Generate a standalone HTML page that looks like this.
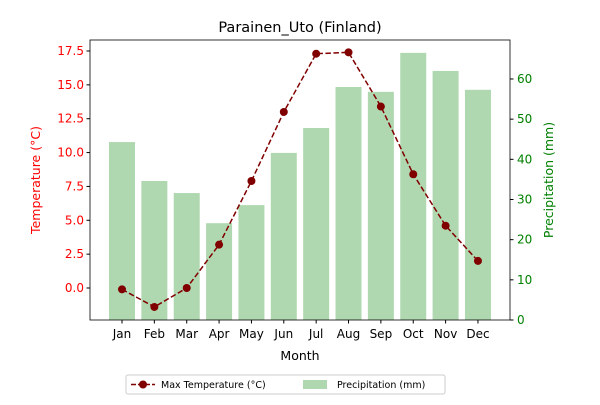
<!DOCTYPE html>
<html><head><meta charset="utf-8"><style>
body{margin:0;background:#fff;font-family:"Liberation Sans","DejaVu Sans",sans-serif;}
svg text{font-family:"DejaVu Sans","Liberation Sans",sans-serif;}
</style></head><body>
<svg id="chart" width="600" height="400" xmlns="http://www.w3.org/2000/svg">
<text x="300" y="32" font-size="14.5" text-anchor="middle">Parainen_Uto (Finland)</text>
<g id="bars"></g><g id="line"></g><g id="axes"></g>
<g>
<rect x="126" y="375" width="319" height="19" fill="#fff" stroke="#ccc" rx="2"/>
<line x1="131" y1="384.5" x2="155" y2="384.5" stroke="#800000" stroke-width="1.5" stroke-dasharray="5,2"/>
<circle cx="143" cy="384.5" r="4" fill="#800000"/>
<text x="161" y="388" font-size="9.5">Max Temperature (°C)</text>
<rect x="303" y="380" width="24" height="9" fill="#b0d8b0"/>
<text x="337" y="388" font-size="9.5">Precipitation (mm)</text>
</g>
</svg>
<script>
const months=["Jan","Feb","Mar","Apr","May","Jun","Jul","Aug","Sep","Oct","Nov","Dec"];
const temps=[-0.1,-1.4,0.0,3.2,7.9,13.0,17.3,17.4,13.4,8.4,4.6,2.0];
const precip=[44.3,34.6,31.6,24.1,28.6,41.6,47.8,58.0,56.8,66.5,62.0,57.3];
const tTicks=[0,2.5,5,7.5,10,12.5,15,17.5];
const pTicks=[0,10,20,30,40,50,60];
const L=90,R=510,T=40,B=320;
const x=i=>122+i*32.36;
const yT=v=>288-v*13.543;
const yP=v=>320-v*4.017;
const NS="http://www.w3.org/2000/svg";
function mk(tag,attrs,parent,txt){const e=document.createElementNS(NS,tag);for(const k in attrs)e.setAttribute(k,attrs[k]);if(txt!==undefined)e.textContent=txt;parent.appendChild(e);return e;}
const bars=document.getElementById('bars'),line=document.getElementById('line'),axes=document.getElementById('axes');
precip.forEach((v,i)=>{const r=mk('rect',{x:x(i)-13,y:yP(v),width:26,height:B-yP(v),fill:'#b0d8b0'},bars);

});
const pl=mk('polyline',{points:temps.map((v,i)=>x(i)+','+yT(v)).join(' '),fill:'none',stroke:'#800000','stroke-width':1.5,'stroke-dasharray':'5.5,2.5'},line);


temps.forEach((v,i)=>{const c=mk('circle',{cx:x(i),cy:yT(v),r:4,fill:'#800000'},line);

});
mk('rect',{x:L,y:T,width:R-L,height:B-T,fill:'none',stroke:'#000','stroke-width':0.8},axes);
tTicks.forEach(v=>{const y=yT(v);mk('line',{x1:L-3.5,x2:L,y1:y,y2:y,stroke:'#000'},axes);
const t=mk('text',{x:L-6,y:y+4,'font-size':12,'text-anchor':'end',fill:'red'},axes,v.toFixed(1));

});
pTicks.forEach(v=>{const y=yP(v);mk('line',{x1:R,x2:R+3.5,y1:y,y2:y,stroke:'#000'},axes);
const t=mk('text',{x:R+7,y:y+4,'font-size':12,fill:'green'},axes,String(v));

});
months.forEach((m,i)=>{mk('line',{x1:x(i),x2:x(i),y1:B,y2:B+3.5,stroke:'#000'},axes);
const t=mk('text',{x:x(i),y:B+18,'font-size':12,'text-anchor':'middle'},axes,m);

});
let a=mk('text',{x:300,y:360,'font-size':12.5,'text-anchor':'middle'},axes,'Month');


a=mk('text',{x:0,y:0,'font-size':12.5,'text-anchor':'middle',fill:'red',transform:'translate(40,180) rotate(-90)'},axes,'Temperature (°C)');


a=mk('text',{x:0,y:0,'font-size':12.5,'text-anchor':'middle',fill:'green',transform:'translate(553,180) rotate(-90)'},axes,'Precipitation (mm)');


</script>
</body></html>
